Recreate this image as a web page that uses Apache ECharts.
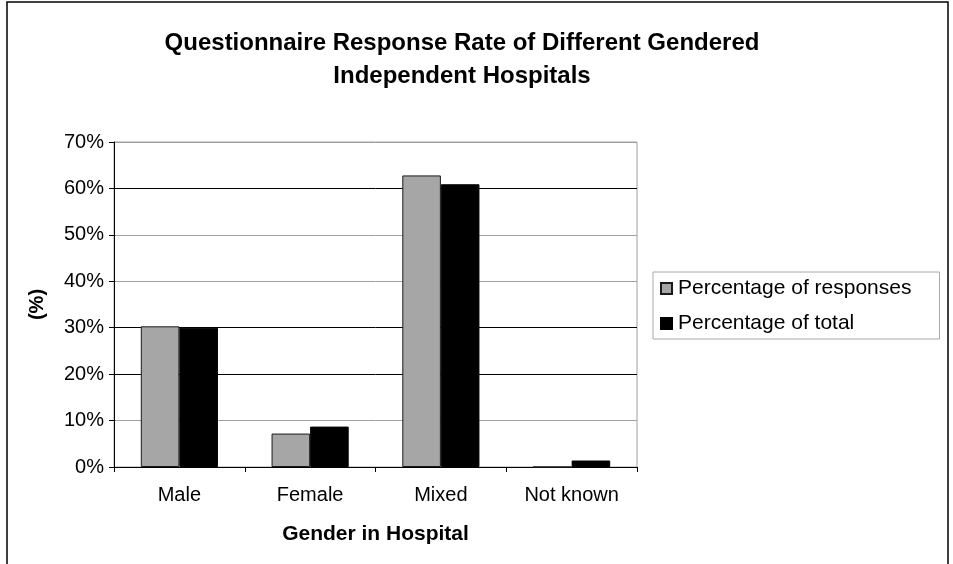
<!DOCTYPE html>
<html>
<head>
<meta charset="utf-8">
<script src="https://cdn.jsdelivr.net/npm/echarts@6/dist/echarts.min.js"></script>
<style>
  html, body { margin: 0; padding: 0; background: #fff; }
  #chart { width: 953px; height: 564px; }
</style>
</head>
<body>
<div id="chart"></div>
<script>
// Response rates by hospital gender type
const categories = ['Male', 'Female', 'Mixed', 'Not known'];
const seriesNames = ['Percentage of responses', 'Percentage of total'];
const responsesPct = [30.3, 7.2, 62.8, 0];
const totalPct = [30.0, 8.7, 60.9, 1.4];
const yTicks = { min: 0, max: 70, interval: 10 };

const FONT = "'Liberation Sans', Arial, sans-serif";

const chart = echarts.init(document.getElementById('chart'), null, { renderer: 'canvas' });

chart.setOption({
  backgroundColor: '#ffffff',
  animation: false,
  title: {
    text: 'Questionnaire Response Rate of Different Gendered\nIndependent Hospitals',
    left: 457,
    top: 22,
    textAlign: 'center',
    textStyle: {
      fontFamily: FONT,
      fontWeight: 'bold',
      fontSize: 24,
      lineHeight: 33,
      color: '#000'
    }
  },
  graphic: [{
    type: 'rect',
    shape: { x: 7, y: 2, width: 941, height: 620 },
    style: { fill: 'none', stroke: '#000', lineWidth: 1.5 },
    silent: true
  }],
  legend: {
    orient: 'vertical',
    left: 653,
    top: 272,
    padding: [6, 28, 5, 7],
    itemGap: 14,
    itemWidth: 11,
    itemHeight: 11,
    icon: 'rect',
    borderColor: '#a8a8a8',
    borderWidth: 1,
    textStyle: { fontFamily: FONT, fontSize: 21, lineHeight: 20, color: '#000', padding: [0, 0, 0, 1] },
    data: seriesNames
  },
  grid: {
    left: 114,
    top: 142,
    right: 316,
    bottom: 97,
    show: true,
    borderColor: '#a0a0a0',
    borderWidth: 1,
    backgroundColor: 'transparent',
    containLabel: false
  },
  xAxis: {
    type: 'category',
    data: categories,
    name: 'Gender in Hospital',
    nameLocation: 'middle',
    nameGap: 57,
    nameTextStyle: { fontFamily: FONT, fontWeight: 'bold', fontSize: 21, color: '#000' },
    axisLine: { lineStyle: { color: '#000', width: 1 } },
    axisTick: { show: true, length: 5, lineStyle: { color: '#000' } },
    axisLabel: { fontFamily: FONT, fontSize: 20, color: '#000', margin: 18 },
    splitLine: { show: false }
  },
  yAxis: {
    type: 'value',
    min: yTicks.min,
    max: yTicks.max,
    interval: yTicks.interval,
    name: '(%)',
    nameLocation: 'middle',
    nameGap: 67,
    nameRotate: 90,
    nameTextStyle: { fontFamily: FONT, fontWeight: 'bold', fontSize: 20, color: '#000' },
    axisLine: { show: true, lineStyle: { color: '#000', width: 1 } },
    axisTick: { show: true, length: 5, lineStyle: { color: '#000' } },
    axisLabel: {
      fontFamily: FONT, fontSize: 20, color: '#000', margin: 10,
      formatter: v => v + '%'
    },
    splitLine: {
      show: true,
      lineStyle: {
        width: 1,
        color: ['#000', '#a0a0a0', '#000', '#000', '#a0a0a0', '#a0a0a0', '#000', '#a0a0a0']
      }
    }
  },
  series: [
    {
      name: seriesNames[0],
      type: 'bar',
      data: responsesPct,
      barGap: '0%',
      barCategoryGap: '41%',
      itemStyle: { color: '#a6a6a6', borderColor: '#1a1a1a', borderWidth: 1 }
    },
    {
      name: seriesNames[1],
      type: 'bar',
      data: totalPct,
      barGap: '0%',
      barCategoryGap: '41%',
      itemStyle: { color: '#000000', borderColor: '#000', borderWidth: 1 }
    }
  ]
});
</script>
</body>
</html>
